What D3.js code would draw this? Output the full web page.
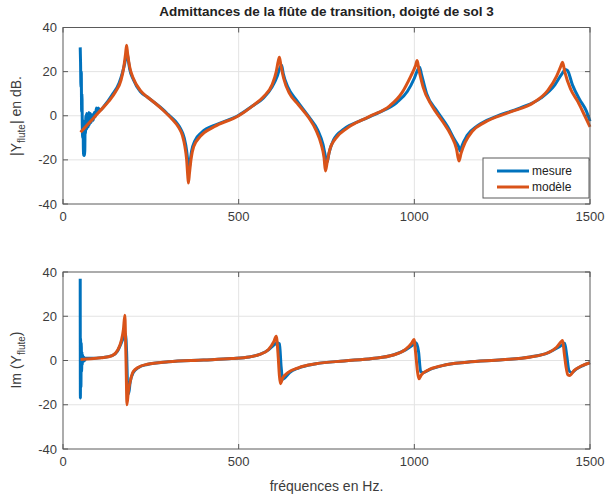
<!DOCTYPE html>
<html>
<head>
<meta charset="utf-8">
<script src="https://cdn.jsdelivr.net/npm/d3@7"></script>
<style>
  body { margin: 0; background: #fff; }
  svg text { font-family: "Liberation Sans", Arial, sans-serif; }
</style>
</head>
<body>
<div id="chart"></div>
<script>
// |Y| en dB, modele (orange)
const modFreq = [50, 70, 90, 110, 130, 150, 165, 173, 178, 181, 184, 190, 200, 220, 240, 260, 285, 310, 330, 340, 347, 352, 355, 357, 360, 365, 372, 390, 430, 500, 540, 570, 595, 607, 613, 616, 620, 628, 645, 670, 700, 720, 735, 743, 747, 752, 760, 775, 810, 870, 930, 965, 990, 1003, 1008, 1013, 1025, 1050, 1080, 1105, 1120, 1127, 1133, 1145, 1165, 1200, 1270, 1340, 1380, 1405, 1417, 1422, 1428, 1445, 1465, 1485, 1500];
const modMag  = [-7.5, -4, -0.5, 3, 6.5, 11, 16, 22, 28, 32, 28, 22, 17, 11.5, 8.5, 6, 2.5, -1.5, -5.5, -9, -14, -20, -27, -30.5, -26, -19, -14, -9.5, -5, 0, 4.5, 8.5, 14, 20, 25, 26.5, 23, 17, 10, 5, -1, -6.5, -13, -19, -25, -21, -15, -10.5, -5.5, -0.5, 4.5, 10.5, 18, 22.5, 25, 21, 13, 4.5, -2.5, -9, -15, -20.5, -17, -12, -7, -3, 1.5, 6, 11.5, 18, 22.5, 24.3, 20, 12, 6.5, 0, -5];

// |Y| en dB, mesure (bleu)
const mesFreq = [49, 50, 51, 52, 53, 54, 55, 56, 57, 58, 59, 60, 61, 62, 63, 64, 65, 66, 67, 68, 70, 72, 74, 76, 78, 80, 83, 86, 89, 92, 95, 97, 100, 105, 120, 140, 160, 170, 176, 180, 183, 186, 190, 200, 220, 240, 260, 285, 300, 320, 335, 345, 352, 356, 358, 361, 366, 375, 395, 440, 500, 540, 570, 595, 610, 618, 622, 627, 640, 665, 700, 725, 740, 748, 752, 757, 770, 800, 850, 900, 950, 980, 1000, 1010, 1015, 1020, 1035, 1065, 1095, 1115, 1126, 1131, 1136, 1150, 1180, 1230, 1300, 1360, 1400, 1420, 1430, 1436, 1450, 1470, 1490, 1500];
const mesMag  = [31, 24, 13, 20, 2, 10, -5, -10, -2, -15, -18, -12, -18, -16, -5, -8, 0, -4, 1, -6, -1, -5, 1.5, -4, 1, -3, 0.5, -2, 1.5, -0.5, 3.5, 2, 3.5, 2.5, 5, 9.5, 15, 20, 24, 27, 28, 25, 21, 16.5, 11, 8.5, 6, 2.8, 0.5, -2.5, -6, -10, -16, -22, -25, -22, -16, -11.5, -7.5, -3.8, 0.2, 4.5, 8, 13, 18, 22, 23, 19, 13, 7, -0.5, -6.5, -13, -19, -21, -17, -11, -6, -2, 1.5, 6, 11, 17, 21, 22, 19, 10, 2, -5, -11, -14, -16, -13.5, -9, -4.5, -0.5, 3.5, 8, 14, 19, 21, 20.5, 14, 7.5, 2, -2.5];

// Im(Y), modele (orange)
const modImFreq = [50, 80, 110, 140, 155, 166, 172, 176, 178, 180, 182, 186, 192, 200, 215, 240, 300, 400, 480, 530, 560, 585, 600, 607, 612, 616, 619, 625, 640, 670, 720, 800, 880, 940, 975, 993, 999, 1004, 1009, 1013, 1020, 1040, 1080, 1150, 1250, 1330, 1380, 1405, 1418, 1422, 1427, 1432, 1437, 1442, 1455, 1475, 1500];
const modImVal  = [0.5, 0.8, 1.2, 2.2, 4.5, 9, 14, 20.5, 10, -5, -20, -14, -9, -5, -3, -1.7, -0.6, 0.2, 0.9, 1.6, 2.8, 5, 8.5, 11, 3, -7, -10.5, -8, -5.5, -3.3, -1.5, -0.2, 0.9, 2.5, 5, 8, 9.5, 3, -5, -8.3, -6.5, -4.3, -2.3, -0.8, 0.3, 1.6, 3.5, 6, 8.5, 9, 3, -3, -6.5, -6.8, -4.5, -2.5, -1];

// Im(Y), mesure (bleu)
const mesImFreq = [49, 49.5, 50, 51, 52, 53, 54, 55, 56, 58, 60, 62, 65, 80, 110, 140, 155, 166, 174, 178, 181, 184, 187, 191, 200, 215, 240, 300, 400, 480, 530, 560, 585, 600, 610, 616, 621, 625, 630, 645, 670, 720, 800, 880, 940, 975, 1000, 1005, 1012, 1018, 1025, 1045, 1080, 1150, 1250, 1330, 1380, 1405, 1420, 1428, 1434, 1440, 1448, 1460, 1480, 1500];
const mesImVal  = [37, -17, 10, -12, 8, -5, 4, -2, 2.5, -0.5, 1.5, 0, 1, 1, 1.3, 2.2, 4.2, 8, 11, 12, 4, -12, -15, -10, -5.5, -3.2, -1.8, -0.6, 0.2, 0.9, 1.6, 2.8, 4.8, 7, 8, 7.5, -3, -8.5, -8, -5.5, -3.4, -1.5, -0.2, 0.9, 2.5, 4.8, 7.5, 8, 4, -5, -5.5, -4, -2.3, -0.8, 0.3, 1.6, 3.4, 5.5, 7, 7.8, 2, -4.5, -5.5, -4, -2.3, -1];

const xTicks = [0, 500, 1000, 1500];
const yTicks = [-40, -20, 0, 20, 40];

const W = 606, H = 499;
const blue = "#0072BD", orange = "#D95319";
const left = 63, right = 590;

const svg = d3.select("#chart").append("svg")
  .attr("width", W).attr("height", H);

const x = d3.scaleLinear().domain([0, 1500]).range([left, right]);

function panel(top, bottom, series) {
  const y = d3.scaleLinear().domain([-40, 40]).range([bottom, top]);
  const g = svg.append("g");

  // grid
  g.selectAll(".gx").data(xTicks.slice(1, -1)).enter().append("line")
    .attr("x1", d => x(d)).attr("x2", d => x(d))
    .attr("y1", top).attr("y2", bottom)
    .style("stroke", "#e3e3e3").style("stroke-width", 1);
  g.selectAll(".gy").data(yTicks.slice(1, -1)).enter().append("line")
    .attr("x1", left).attr("x2", right)
    .attr("y1", d => y(d)).attr("y2", d => y(d))
    .style("stroke", "#e3e3e3").style("stroke-width", 1);

  const line = d3.line().curve(d3.curveMonotoneX).x(d => x(d[0])).y(d => y(d[1]));
  series.forEach(s => {
    const pts = s.f.map((f, i) => [f, s.v[i]]);
    g.append("path").datum(pts)
      .attr("d", line)
      .style("fill", "none")
      .style("stroke", s.color)
      .style("stroke-width", 3)
      .style("stroke-linejoin", "round");
  });

  // box and ticks
  const axisColor = "#5a5a5a";
  g.append("rect")
    .attr("x", left).attr("y", top)
    .attr("width", right - left).attr("height", bottom - top)
    .style("fill", "none").style("stroke", axisColor).style("stroke-width", 1);

  const tl = 5;
  xTicks.forEach(t => {
    g.append("line").attr("x1", x(t)).attr("x2", x(t)).attr("y1", bottom).attr("y2", bottom - tl)
      .style("stroke", axisColor);
    g.append("line").attr("x1", x(t)).attr("x2", x(t)).attr("y1", top).attr("y2", top + tl)
      .style("stroke", axisColor);
    g.append("text").attr("x", x(t)).attr("y", bottom + 17)
      .attr("text-anchor", "middle")
      .style("font-size", "13px").style("fill", "#3c3c3c")
      .text(t);
  });
  yTicks.forEach(t => {
    g.append("line").attr("x1", left).attr("x2", left + tl).attr("y1", y(t)).attr("y2", y(t))
      .style("stroke", axisColor);
    g.append("line").attr("x1", right).attr("x2", right - tl).attr("y1", y(t)).attr("y2", y(t))
      .style("stroke", axisColor);
    g.append("text").attr("x", left - 6).attr("y", y(t) + 4.5)
      .attr("text-anchor", "end")
      .style("font-size", "13px").style("fill", "#3c3c3c")
      .text(t);
  });
  return y;
}

// top panel
panel(27.5, 204, [
  { f: mesFreq, v: mesMag, color: blue },
  { f: modFreq, v: modMag, color: orange }
]);

// bottom panel
panel(272, 449, [
  { f: mesImFreq, v: mesImVal, color: blue },
  { f: modImFreq, v: modImVal, color: orange }
]);

// title
svg.append("text")
  .attr("x", (left + right) / 2).attr("y", 16)
  .attr("text-anchor", "middle")
  .style("font-size", "13.5px").style("font-weight", "bold").style("fill", "#222")
  .text("Admittances de la flûte de transition, doigté de sol 3");

// y labels
const yl1 = svg.append("text")
  .attr("transform", "translate(21," + 116 + ") rotate(-90)")
  .attr("text-anchor", "middle")
  .style("font-size", "14px").style("fill", "#3c3c3c");
yl1.append("tspan").text("|Y");
yl1.append("tspan").attr("dy", 4).style("font-size", "10px").text("flute");
yl1.append("tspan").attr("dy", -4).text("| en dB.");

const yl2 = svg.append("text")
  .attr("transform", "translate(21," + 360 + ") rotate(-90)")
  .attr("text-anchor", "middle")
  .style("font-size", "14px").style("fill", "#3c3c3c");
yl2.append("tspan").text("Im (Y");
yl2.append("tspan").attr("dy", 4).style("font-size", "10px").text("flute");
yl2.append("tspan").attr("dy", -4).text(")");

// x label
svg.append("text")
  .attr("x", (left + right) / 2).attr("y", 491)
  .attr("text-anchor", "middle")
  .style("font-size", "14px").style("fill", "#3c3c3c")
  .text("fréquences en Hz.");

// legend
const lg = svg.append("g");
lg.append("rect").attr("x", 483).attr("y", 158).attr("width", 106).attr("height", 40)
  .style("fill", "#fff").style("stroke", "#5a5a5a").style("stroke-width", 1);
[["mesure", blue], ["modèle", orange]].forEach((d, i) => {
  const yy = 171 + i * 16;
  lg.append("line").attr("x1", 497).attr("x2", 529).attr("y1", yy).attr("y2", yy)
    .style("stroke", d[1]).style("stroke-width", 3);
  lg.append("text").attr("x", 532).attr("y", yy + 4)
    .style("font-size", "12px").style("fill", "#222")
    .text(d[0]);
});
</script>
</body>
</html>
